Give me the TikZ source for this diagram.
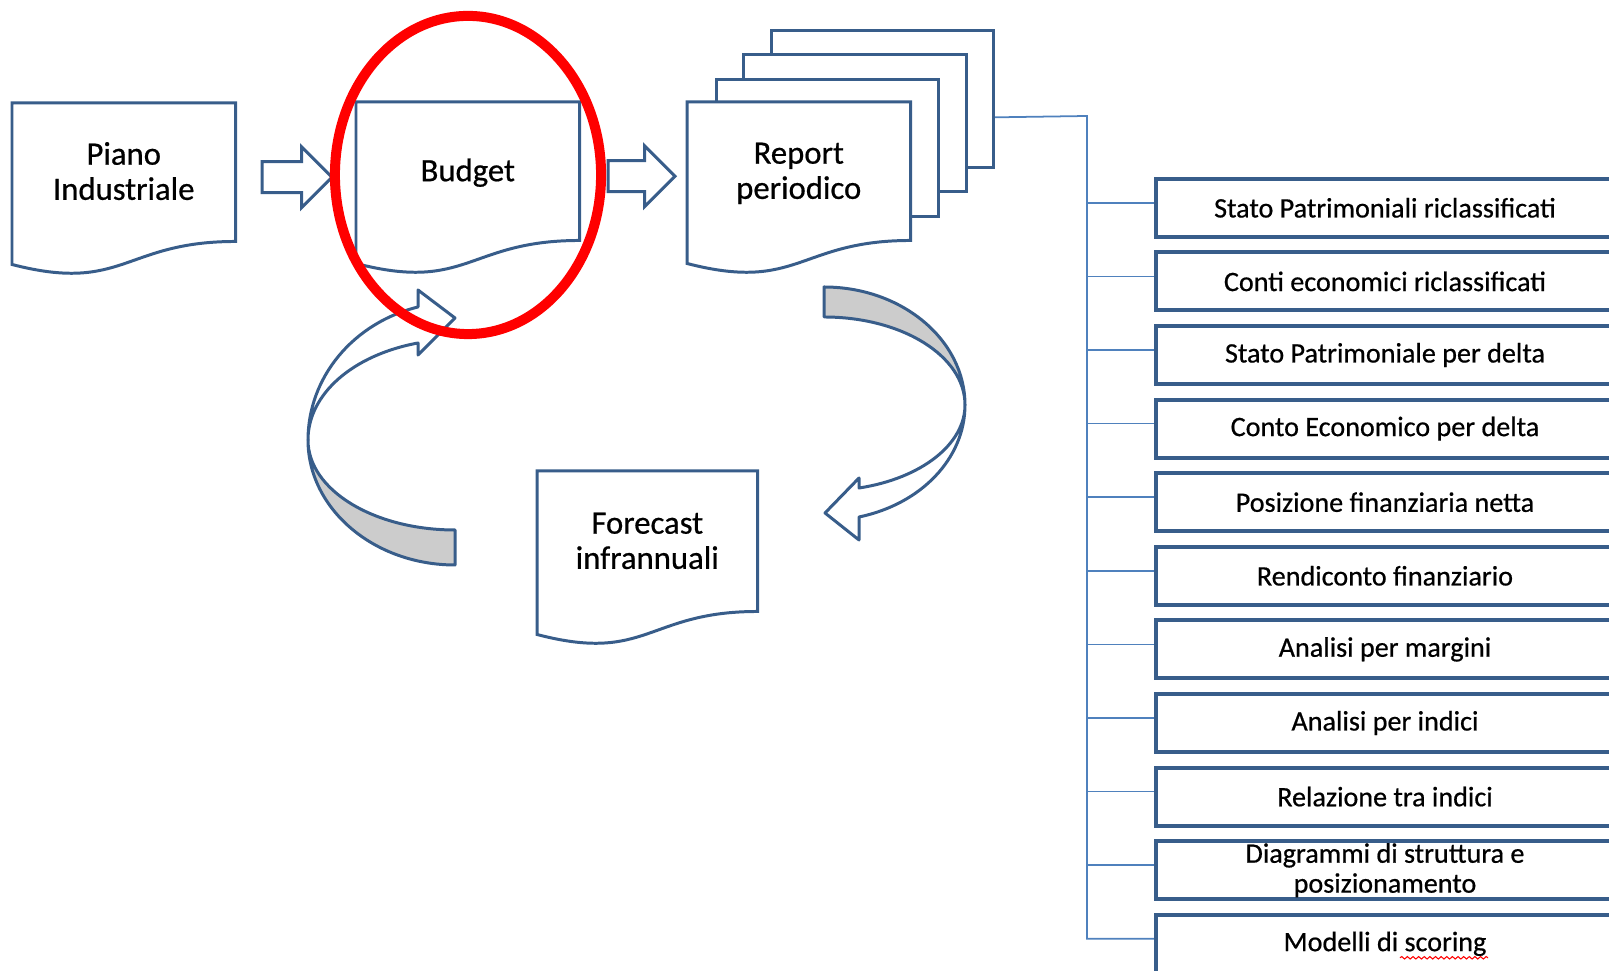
\documentclass[tikz,border=0pt]{standalone}
\usepackage{fontspec}
\setmainfont{Carlito}[FakeBold=0.6]
\usetikzlibrary{calc, positioning, shapes.arrows, decorations.pathmorphing}
\definecolor{docblue}{HTML}{385D8A}
\definecolor{linkblue}{HTML}{4F81BD}
\definecolor{backgray}{HTML}{CCCCCC}
\pgfdeclarelayer{back}
\pgfsetlayers{back,main}
\newcommand{\topstrut}{\rule{0pt}{8.7pt}}

\begin{document}
\begin{tikzpicture}[x=0.01cm, y=-0.01cm, inner sep=0pt]
  \tikzstyle{doctext}=[minimum width=2.22cm, minimum height=1.37cm, align=center, anchor=north west, font=\fontsize{9.3}{10}\selectfont]
  \tikzstyle{docline}=[draw=docblue, line width=0.85pt, fill=white]
  \tikzstyle{sheet}=[docline, minimum width=2.22cm, minimum height=1.37cm, anchor=north west]
  \tikzstyle{fatarrow}=[single arrow, draw=docblue, line width=0.85pt, fill=white, minimum height=0.7cm, inner xsep=0pt, inner ysep=0.14cm, single arrow head extend=0.15cm, anchor=tail]
  \tikzstyle{itembox}=[draw=docblue, line width=1.1pt, minimum width=4.58cm, minimum height=0.58cm, align=center, font=\fontsize{8}{8.5}\selectfont]
  \tikzstyle{link}=[draw=linkblue, line width=0.5pt]
  \tikzstyle{bent}=[draw=docblue, line width=0.85pt, line join=round]

  \useasboundingbox (0,0) rectangle (1609,971);
  \clip (0,0) rectangle (1609,971);

  \node[doctext] (piano)  at (12,103)  {\topstrut Piano\\Industriale\strut};
  \node[doctext] (budget) at (356,102) {\topstrut Budget\strut};
  \node[doctext] (report) at (687,102) {\topstrut Report\\periodico\strut};
  \node[doctext, minimum width=2.19cm, minimum height=1.39cm] (forecast) at (537,471) {\topstrut Forecast\\infrannuali\strut};

  \begin{pgfonlayer}{back}
    % pile of reports behind the first one
    \foreach \k in {3,2,1}
      \node[sheet] (rep\k) at ({687+27.7*\k}, {102-24.3*\k}) {};
    % document outlines with wavy bottom
    \foreach \d in {piano, budget, report, forecast}
      \draw[docline] (\d.north west) -- (\d.north east) -- (\d.south east)
        .. controls (\d.south) and ($(\d.south)+(0,52)$) .. ($(\d.south west)+(0,23)$) -- cycle;
  \end{pgfonlayer}

  \node[fatarrow] (a1) at ($(piano.east)+(25,5)$) {};
  \node[fatarrow, minimum height=0.67cm] (a2) at ($(budget.east)+(27,5)$) {};

  % back to the budget
  \filldraw[bent, fill=backgray] (455,565) .. controls (374,565) and (308,509) .. (308,440)
    .. controls (308,490) and (374,530) .. (455,530) -- cycle;
  \filldraw[bent, fill=white] (308,440) .. controls (308,377.5) and (353,323) .. (418,307)
    -- (418,290) -- (455,318) -- (418,355) -- (418,343)
    .. controls (353,355) and (308,394) .. (308,440) -- cycle;

  % down to the forecast
  \filldraw[bent, fill=backgray] (824,287) .. controls (902,287) and (965,340) .. (965,405)
    .. controls (965,356) and (902,317) .. (824,317) -- cycle;
  \filldraw[bent, fill=white] (965,405) .. controls (965,458) and (921.6,504) .. (859,517)
    -- (859,540) -- (825,513) -- (859,478) -- (859,488)
    .. controls (921.6,478.4) and (965,444) .. (965,405) -- cycle;

  % contents of the report
  \coordinate (trunk) at (1087,116);
  \foreach \t [count=\i from 0] in {Stato Patrimoniali riclassificati, Conti economici riclassificati,
      Stato Patrimoniale per delta, Conto Economico per delta, Posizione finanziaria netta,
      Rendiconto finanziario, Analisi per margini, Analisi per indici, Relazione tra indici,
      {Diagrammi di struttura e\\posizionamento}, Modelli di scoring} {
    \node[itembox] (b\i) at (1385, {207.8+73.6*\i}) {\t};
    \coordinate (t\i) at ([yshift=0.5mm]b\i.west);
  }
  \draw[link] ($(rep3.north east)!0.63!(rep3.south east)$) -- (trunk) |- (t10);
  \foreach \i in {0,...,9}
    \draw[link] (trunk |- t\i) -- (t\i);

  \draw[red, line width=0.3pt, decorate, decoration={snake, amplitude=0.35pt, segment length=1.6pt}]
    ($(b10.center)+(15,14)$) -- ++(88,0);

  \draw[red, line width=1mm] (468,175) ellipse [x radius=1.33cm, y radius=1.59cm];
\end{tikzpicture}
\end{document}
